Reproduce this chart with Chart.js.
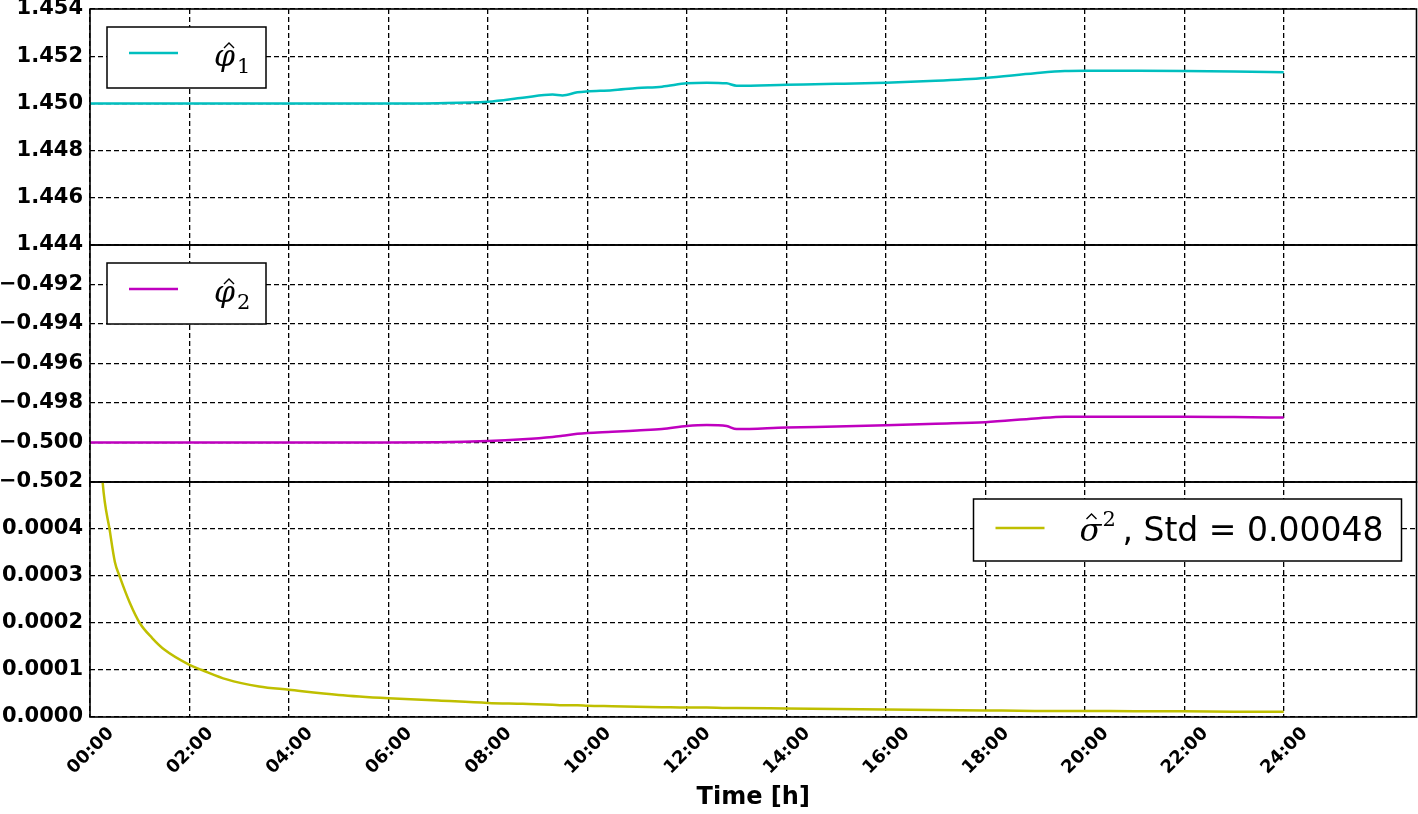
<!DOCTYPE html>
<html>
<head>
<meta charset="utf-8">
<script src="https://cdn.jsdelivr.net/npm/chart.js@4.4.0/dist/chart.umd.min.js"></script>
<style>
    html, body { margin: 0; padding: 0; background: #fff; }
    #wrap { position: relative; width: 1418px; height: 814px; }
    #wrap canvas { position: absolute; left: 0; top: 0; }
</style>
</head>
<body>
<div id="wrap">
    <canvas id="phi1-chart" width="1418" height="814"></canvas>
    <canvas id="phi2-chart" width="1418" height="814"></canvas>
    <canvas id="sigma-chart" width="1418" height="814"></canvas>
</div>
<script>
// time in hours since 00:00
const hours = [0, 0.1, 0.25, 0.4, 0.5, 0.6, 0.8, 1.0, 1.25, 1.5, 2.0, 2.25, 2.75, 3.4, 4, 5, 6, 7, 8,
    8.7, 9.3, 9.5, 9.8, 10, 10.5, 11, 11.5, 12, 12.4, 12.8, 13, 14, 15, 16, 17, 18, 19, 19.6, 20, 21, 22, 23, 24];

const phi1 = [1.45, 1.45, 1.45, 1.45, 1.45, 1.45, 1.45, 1.45, 1.45, 1.45, 1.45, 1.45, 1.45, 1.45, 1.45, 1.45, 1.45, 1.45001, 1.45007,
    1.45024, 1.45038, 1.45034, 1.45047, 1.45051, 1.45056, 1.45065, 1.45071, 1.45085, 1.45088, 1.45085, 1.45075, 1.45079, 1.45083,
    1.45088, 1.45096, 1.45108, 1.45128, 1.45137, 1.45138, 1.45138, 1.45137, 1.45135, 1.45132];

const phi2 = [-0.5, -0.5, -0.5, -0.5, -0.5, -0.5, -0.5, -0.5, -0.5, -0.5, -0.5, -0.5, -0.5, -0.5, -0.5, -0.5, -0.5, -0.49999, -0.49993,
    -0.49984, -0.49972, -0.49966, -0.49956, -0.49952, -0.49946, -0.49939, -0.49932, -0.49917, -0.49912, -0.49917, -0.49932, -0.49924, -0.49919,
    -0.49913, -0.49905, -0.49897, -0.49878, -0.49869, -0.49869, -0.49869, -0.49869, -0.49871, -0.49874];

const sigma2 = [0.0012, 0.0008, 0.000505, 0.000395, 0.00033, 0.000298, 0.000243, 0.0002, 0.000168, 0.000143, 0.000111, 0.0001, 0.00008,
    0.000065, 0.000058, 0.000047, 0.00004, 0.000035, 0.00003, 0.000028, 0.000026, 0.000025, 0.000025, 0.000024, 0.000023, 0.000022,
    0.000021, 0.00002, 0.00002, 0.000019, 0.000019, 0.000018, 0.000017, 0.000016, 0.000015, 0.000014, 0.000013, 0.000013, 0.000013,
    0.000012, 0.000012, 0.000011, 0.000011];

const xTickHours = [0, 2, 4, 6, 8, 10, 12, 14, 16, 18, 20, 22, 24];
const xTickLabels = ['00:00', '02:00', '04:00', '06:00', '08:00', '10:00', '12:00', '14:00', '16:00', '18:00', '20:00', '22:00', '24:00'];
const xMaxHours = 26.67;

const phi1Ticks = [1.444, 1.446, 1.448, 1.450, 1.452, 1.454];
const phi2Ticks = [-0.502, -0.500, -0.498, -0.496, -0.494, -0.492, -0.490];
const sigmaTicks = [0, 0.0001, 0.0002, 0.0003, 0.0004, 0.0005];

const stdText = ', Std = 0.00048';

const GRID_DASH = [5, 3];
const TICK_FONT = { family: 'DejaVu Sans', weight: 'bold', size: 21 };

// frame + legend box with a hatted symbol
const panelPlugin = {
    id: 'panel',
    afterDraw(chart, args, opts) {
        const { ctx, chartArea } = chart;
        ctx.save();
        ctx.strokeStyle = '#000';
        ctx.lineWidth = 1.6;
        ctx.strokeRect(chartArea.left, chartArea.top, chartArea.right - chartArea.left, chartArea.bottom - chartArea.top);

        const lg = opts.legend;
        const bx = lg.fromRight ? chartArea.right - lg.dx - lg.w : chartArea.left + lg.dx;
        const by = chartArea.top + lg.dy;
        ctx.fillStyle = '#fff';
        ctx.fillRect(bx, by, lg.w, lg.h);
        ctx.lineWidth = 1.5;
        ctx.strokeRect(bx, by, lg.w, lg.h);

        ctx.strokeStyle = lg.color;
        ctx.lineWidth = 2.5;
        ctx.beginPath();
        ctx.moveTo(bx + 22, by + lg.lineY);
        ctx.lineTo(bx + 71, by + lg.lineY);
        ctx.stroke();

        // hat
        const [hx, hy] = lg.hat;
        ctx.strokeStyle = '#000';
        ctx.lineWidth = 1.4;
        ctx.beginPath();
        ctx.moveTo(bx + hx - 5, by + hy + 5);
        ctx.lineTo(bx + hx, by + hy);
        ctx.lineTo(bx + hx + 5, by + hy + 5);
        ctx.stroke();

        ctx.fillStyle = '#000';
        ctx.textBaseline = 'alphabetic';
        ctx.textAlign = 'left';
        lg.parts.forEach((p) => {
            ctx.font = p.font;
            ctx.fillText(p.text, bx + p.x, by + p.y);
        });
        ctx.restore();
    },
};

function makePanel(canvasId, cfg) {
    const isBottom = !!cfg.showX;
    return new Chart(document.getElementById(canvasId), {
        type: 'line',
        data: {
            datasets: [
                {
                    data: hours.map((h, i) => ({ x: h, y: cfg.values[i] })),
                    borderColor: cfg.color,
                    borderWidth: 2.5,
                    pointRadius: 0,
                    cubicInterpolationMode: 'monotone',
                },
            ],
        },
        options: {
            responsive: false,
            animation: false,
            events: [],
            layout: {
                padding: { top: cfg.top, bottom: cfg.bottom, left: 0, right: 1.5 },
            },
            plugins: {
                legend: { display: false },
                tooltip: { enabled: false },
                panel: { legend: cfg.legend },
            },
            scales: {
                x: {
                    type: 'linear',
                    min: 0,
                    max: xMaxHours,
                    afterBuildTicks: (scale) => {
                        scale.ticks = xTickHours.map((v) => ({ value: v }));
                    },
                    afterFit: (scale) => {
                        scale.height = isBottom ? 97 : 0;
                        scale.paddingLeft = 0;
                        scale.paddingRight = 0;
                    },
                    grid: {
                        color: '#000',
                        lineWidth: 1.3,
                        drawTicks: false,
                    },
                    border: { display: false, dash: GRID_DASH },
                    ticks: {
                        display: isBottom,
                        autoSkip: false,
                        maxRotation: 45,
                        minRotation: 45,
                        padding: 6,
                        labelOffset: 21,
                        color: '#000',
                        font: { family: 'DejaVu Sans', weight: 'bold', size: 18 },
                        callback: (value) => xTickLabels[xTickHours.indexOf(value)],
                    },
                    title: {
                        display: isBottom,
                        text: 'Time [h]',
                        color: '#000',
                        padding: { top: 0, bottom: 2 },
                        font: { family: 'DejaVu Sans', weight: 'bold', size: 24 },
                    },
                },
                y: {
                    type: 'linear',
                    min: cfg.ticks[0],
                    max: cfg.ticks[cfg.ticks.length - 1],
                    afterBuildTicks: (scale) => {
                        scale.ticks = cfg.ticks.map((v) => ({ value: v }));
                    },
                    afterFit: (scale) => {
                        scale.width = 90;
                        scale.paddingTop = 0;
                        scale.paddingBottom = 0;
                    },
                    grid: {
                        color: '#000',
                        lineWidth: 1.3,
                        drawTicks: false,
                    },
                    border: { display: false, dash: GRID_DASH },
                    ticks: {
                        padding: 7,
                        color: '#000',
                        font: TICK_FONT,
                        callback: cfg.format,
                    },
                },
            },
        },
        plugins: [panelPlugin],
    });
}

const phiParts = (sub) => [
    { text: 'φ', font: 'italic 30px "DejaVu Serif"', x: 107, y: 39 },
    { text: sub, font: '21px "DejaVu Serif"', x: 130, y: 46 },
];

makePanel('phi1-chart', {
    values: phi1,
    color: '#00bfbf',
    ticks: phi1Ticks,
    top: 9,
    bottom: 814 - 245,
    format: (v) => v.toFixed(3),
    legend: { dx: 17, dy: 18, w: 159, h: 61, lineY: 26, color: '#00bfbf', hat: [122, 16], parts: phiParts('1') },
});

makePanel('phi2-chart', {
    values: phi2,
    color: '#bf00bf',
    ticks: phi2Ticks,
    top: 245,
    bottom: 814 - 482,
    format: (v) => (Math.abs(v + 0.490) < 1e-9 ? '' : '\u2212' + Math.abs(v).toFixed(3)),
    legend: { dx: 17, dy: 18, w: 159, h: 61, lineY: 26, color: '#bf00bf', hat: [122, 16], parts: phiParts('2') },
});

makePanel('sigma-chart', {
    values: sigma2,
    color: '#bfbf00',
    ticks: sigmaTicks,
    top: 482,
    bottom: 0,
    showX: true,
    format: (v) => (Math.abs(v - 0.0005) < 1e-12 ? '' : v.toFixed(4)),
    legend: {
        fromRight: true, dx: 15, dy: 17, w: 428, h: 62, lineY: 29, color: '#bfbf00', hat: [118, 15],
        parts: [
            { text: 'σ', font: 'italic 32px "DejaVu Serif"', x: 106, y: 42 },
            { text: '2', font: '21px "DejaVu Serif"', x: 129, y: 27 },
            { text: stdText, font: '33px "DejaVu Sans"', x: 149, y: 42 },
        ],
    },
});
</script>
</body>
</html>
